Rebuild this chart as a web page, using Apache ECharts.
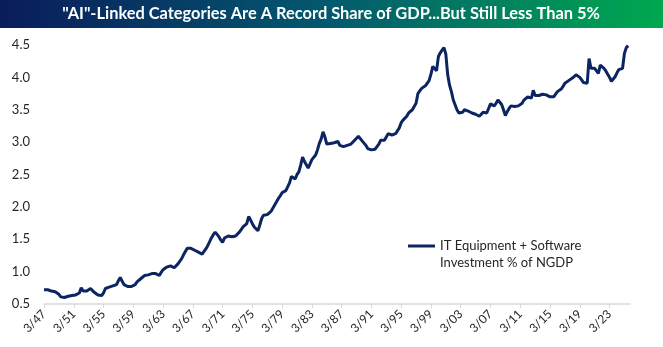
<!DOCTYPE html>
<html>
<head>
<meta charset="utf-8">
<script src="https://cdn.jsdelivr.net/npm/echarts@6/dist/echarts.min.js"></script>
<style>
  html, body { margin: 0; padding: 0; background: #fff; }
  #chart { width: 663px; height: 347px; }
</style>
</head>
<body>
<div id="chart"></div>
<script>
// IT equipment + software investment as % of nominal GDP, quarterly, 1947 Q1 onward
const firstYear = 1947;
const quarterMonths = [3, 6, 9, 12];

const yearlyValues = [
  [0.72, 0.71, 0.72, 0.71], // 1947
  [0.70, 0.68, 0.69, 0.69],
  [0.65, 0.61, 0.59, 0.60],
  [0.61, 0.62, 0.64, 0.63], // 1950
  [0.62, 0.64, 0.65, 0.67],
  [0.75, 0.70, 0.67, 0.70],
  [0.72, 0.74, 0.71, 0.68],
  [0.65, 0.64, 0.63, 0.63],
  [0.67, 0.74, 0.75, 0.76], // 1955
  [0.77, 0.78, 0.77, 0.80],
  [0.86, 0.91, 0.85, 0.80],
  [0.77, 0.77, 0.77, 0.77],
  [0.77, 0.80, 0.84, 0.87],
  [0.89, 0.92, 0.94, 0.94], // 1960
  [0.95, 0.96, 0.97, 0.98],
  [0.97, 0.95, 0.94, 0.99],
  [1.03, 1.06, 1.07, 1.08],
  [1.09, 1.08, 1.06, 1.09],
  [1.12, 1.15, 1.20, 1.26], // 1965
  [1.31, 1.36, 1.38, 1.36],
  [1.34, 1.33, 1.32, 1.30],
  [1.28, 1.27, 1.30, 1.35],
  [1.40, 1.46, 1.52, 1.57],
  [1.61, 1.58, 1.54, 1.49], // 1970
  [1.45, 1.52, 1.53, 1.55],
  [1.57, 1.54, 1.52, 1.55],
  [1.58, 1.61, 1.65, 1.69],
  [1.68, 1.74, 1.85, 1.80],
  [1.74, 1.69, 1.66, 1.63], // 1975
  [1.72, 1.82, 1.87, 1.87],
  [1.88, 1.89, 1.93, 1.98],
  [2.03, 2.08, 2.13, 2.17],
  [2.22, 2.23, 2.25, 2.26],
  [2.37, 2.47, 2.45, 2.43], // 1980
  [2.50, 2.54, 2.65, 2.77],
  [2.70, 2.65, 2.60, 2.57],
  [2.73, 2.75, 2.80, 2.88],
  [2.98, 3.05, 3.16, 3.08],
  [2.97, 2.99, 2.98, 3.00], // 1985
  [2.99, 2.96, 3.01, 2.95],
  [2.92, 2.93, 2.94, 2.95],
  [2.95, 2.97, 2.98, 3.03],
  [3.06, 3.09, 3.07, 3.02],
  [2.99, 2.95, 2.90, 2.89], // 1990
  [2.88, 2.89, 2.89, 2.91],
  [2.97, 3.03, 3.03, 3.03],
  [3.08, 3.13, 3.12, 3.11],
  [3.12, 3.13, 3.13, 3.22],
  [3.30, 3.34, 3.37, 3.40], // 1995
  [3.45, 3.47, 3.50, 3.55],
  [3.60, 3.75, 3.79, 3.83],
  [3.86, 3.87, 3.84, 3.95],
  [4.05, 4.17, 4.19, 4.10],
  [4.32, 4.38, 4.42, 4.46], // 2000
  [4.36, 4.04, 3.88, 3.78],
  [3.65, 3.62, 3.50, 3.45],
  [3.45, 3.46, 3.50, 3.53],
  [3.48, 3.46, 3.45, 3.44],
  [3.43, 3.42, 3.40, 3.41], // 2005
  [3.46, 3.44, 3.45, 3.52],
  [3.59, 3.57, 3.56, 3.60],
  [3.65, 3.62, 3.58, 3.50],
  [3.41, 3.47, 3.52, 3.56],
  [3.56, 3.55, 3.55, 3.56], // 2010
  [3.57, 3.60, 3.65, 3.67],
  [3.70, 3.73, 3.68, 3.80],
  [3.72, 3.70, 3.72, 3.73],
  [3.74, 3.74, 3.73, 3.72],
  [3.70, 3.69, 3.70, 3.74], // 2015
  [3.78, 3.80, 3.82, 3.86],
  [3.91, 3.93, 3.95, 3.97],
  [3.99, 4.01, 4.04, 4.02],
  [4.00, 3.96, 3.92, 3.91],
  [3.91, 4.29, 4.14, 4.17], // 2020
  [4.14, 4.10, 4.06, 4.19],
  [4.17, 4.14, 4.10, 4.05],
  [4.00, 3.94, 3.97, 4.01],
  [4.07, 4.12, 4.14, 4.14],
  [4.37, 4.46, 4.49, null]  // 2025
];

const seriesName = 'IT Equipment + Software Investment % of NGDP';
const legendLines = ['IT Equipment + Software', 'Investment % of NGDP'];
const titleText = '"AI"-Linked Categories Are A Record Share of GDP...But Still Less Than 5%';
const yTicks = { min: 0.5, max: 4.5, step: 0.5 };

// quarter-end labels such as "3/47"
const categories = [];
const values = [];
yearlyValues.forEach((row, i) => {
  const yy = String((firstYear + i) % 100).padStart(2, '0');
  row.forEach((v, q) => {
    categories.push(quarterMonths[q] + '/' + yy);
    values.push(v);
  });
});

const font = 'Lato, "Liberation Sans", sans-serif';
const lineColor = '#0c2461';
const textColor = '#262626';
const chart = echarts.init(document.getElementById('chart'), null, { renderer: 'canvas' });

chart.setOption({
  animation: false,
  backgroundColor: '#ffffff',
  graphic: [
    {
      type: 'rect',
      left: 0, top: 0,
      shape: { width: 663, height: 28 },
      style: {
        fill: new echarts.graphic.LinearGradient(0, 0, 1, 0, [
          { offset: 0, color: '#0a1c5c' },
          { offset: 0.5, color: '#035a6e' },
          { offset: 1, color: '#00a84f' }
        ])
      },
      silent: true
    },
    {
      type: 'text',
      x: 331, y: 14,
      style: {
        text: titleText,
        fill: '#ffffff',
        font: 'bold 16.4px ' + font,
        align: 'center',
        verticalAlign: 'middle'
      },
      silent: true
    },
    // legend: line sample beside a two-line caption
    {
      type: 'line',
      shape: { x1: 408, y1: 246, x2: 435, y2: 246 },
      style: { stroke: lineColor, lineWidth: 3 },
      silent: true
    },
    {
      type: 'text',
      x: 440, y: 237.5,
      style: {
        text: legendLines.join('\n'),
        fill: textColor,
        font: '13px ' + font,
        lineHeight: 17,
        align: 'left',
        verticalAlign: 'top'
      },
      silent: true
    }
  ],
  grid: { left: 44, right: 33, top: 45, bottom: 43, containLabel: false },
  xAxis: {
    type: 'category',
    data: categories,
    boundaryGap: false,
    axisLine: { lineStyle: { color: '#d9d9d9', width: 1.5 } },
    axisTick: { interval: 15, length: 4, lineStyle: { color: '#d9d9d9' } },
    axisLabel: {
      interval: 15,
      rotate: 45,
      color: textColor,
      fontFamily: font,
      fontSize: 12,
      margin: 8
    },
    splitLine: { show: false }
  },
  yAxis: {
    type: 'value',
    min: yTicks.min,
    max: yTicks.max,
    interval: yTicks.step,
    axisLine: { show: false },
    axisTick: { show: false },
    splitLine: { show: false },
    axisLabel: {
      color: textColor,
      fontFamily: font,
      fontSize: 13,
      margin: 14,
      formatter: v => v.toFixed(1)
    }
  },
  series: [{
    name: seriesName,
    type: 'line',
    data: values,
    showSymbol: false,
    smooth: false,
    lineStyle: { color: lineColor, width: 3 },
    itemStyle: { color: lineColor }
  }]
});
</script>
</body>
</html>
